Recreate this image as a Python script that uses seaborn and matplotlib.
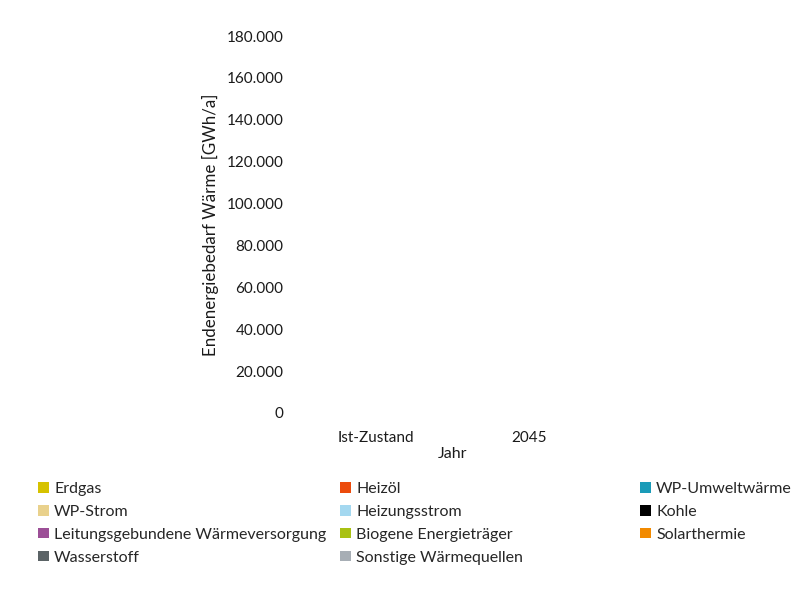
import numpy as np
import pandas as pd
import matplotlib
matplotlib.use('Agg')
import matplotlib.pyplot as plt
import seaborn as sns
from matplotlib.patches import Patch
from matplotlib.ticker import FuncFormatter

# Daten (im Bild sind keine Balken sichtbar -> alle Werte 0)
jahre = ['Ist-Zustand', '2045']
erdgas = [0, 0]
heizoel = [0, 0]
wp_umwelt = [0, 0]
wp_strom = [0, 0]
heizungsstrom = [0, 0]
kohle = [0, 0]
leitung = [0, 0]
biogen = [0, 0]
solar = [0, 0]
wasserstoff = [0, 0]
sonstige = [0, 0]

traeger = ['Erdgas', 'Heizöl', 'WP-Umweltwärme', 'WP-Strom', 'Heizungsstrom', 'Kohle',
           'Leitungsgebundene Wärmeversorgung', 'Biogene Energieträger', 'Solarthermie',
           'Wasserstoff', 'Sonstige Wärmequellen']
werte = [erdgas, heizoel, wp_umwelt, wp_strom, heizungsstrom, kohle,
         leitung, biogen, solar, wasserstoff, sonstige]
farben = ['#d6c200', '#ec4b0c', '#1a9bb8', '#e9d18c', '#a4d8f0', '#000000',
          '#9c4f97', '#a9c113', '#f28a00', '#5b6366', '#a7aeb5']

sns.set_style('white')
plt.rcParams['font.family'] = ['Lato', 'DejaVu Sans']
plt.rcParams['font.size'] = 11

fig = plt.figure(figsize=(8.1, 6), dpi=100)
ax = fig.add_axes([0.3698, 0.3117, 0.3778, 0.6283])

df = pd.DataFrame({'Jahr': jahre})
bottom = np.zeros(len(jahre))
for name, vals, col in zip(traeger, werte, farben):
    df[name] = vals
    sns.barplot(data=df, x='Jahr', y=name, color=col, bottom=bottom, ax=ax, width=0.5)
    bottom = bottom + np.array(vals)

ax.set_xlim(-0.5, 1.5)
ax.set_ylim(0, 180000)
ax.set_yticks(np.arange(0, 180001, 20000))
ax.yaxis.set_major_formatter(FuncFormatter(lambda v, p: f'{int(v):,}'.replace(',', '.')))
ax.tick_params(axis='both', length=0, labelsize=11, colors='#1a1a1a')
ax.tick_params(axis='y', pad=11.5)
ax.tick_params(axis='x', pad=13)
sns.despine(ax=ax, left=True, bottom=True)
ax.set_ylabel('Endenergiebedarf Wärme [GWh/a]', fontsize=12.2, color='#1a1a1a')
ax.set_xlabel('Jahr', fontsize=11.5, color='#1a1a1a')
ax.yaxis.set_label_coords(-0.262, 0.5)
ax.xaxis.set_label_coords(0.5, -0.09)

# Legende: drei Spalten, zeilenweise sortiert
x_starts = [35, 337, 637]
for c in range(3):
    idx = list(range(c, len(traeger), 3))
    handles = [Patch(facecolor=farben[i], edgecolor='none') for i in idx]
    labels = [traeger[i] for i in idx]
    fig.legend(handles, labels, loc='upper left', bbox_to_anchor=(x_starts[c] / 810, 1 - 479 / 600),
               frameon=False, fontsize=11.5, handlelength=0.65, handleheight=0.65,
               handletextpad=0.35, labelspacing=0.55, borderaxespad=0, borderpad=0.2)

fig.savefig('out.png', dpi=100)
